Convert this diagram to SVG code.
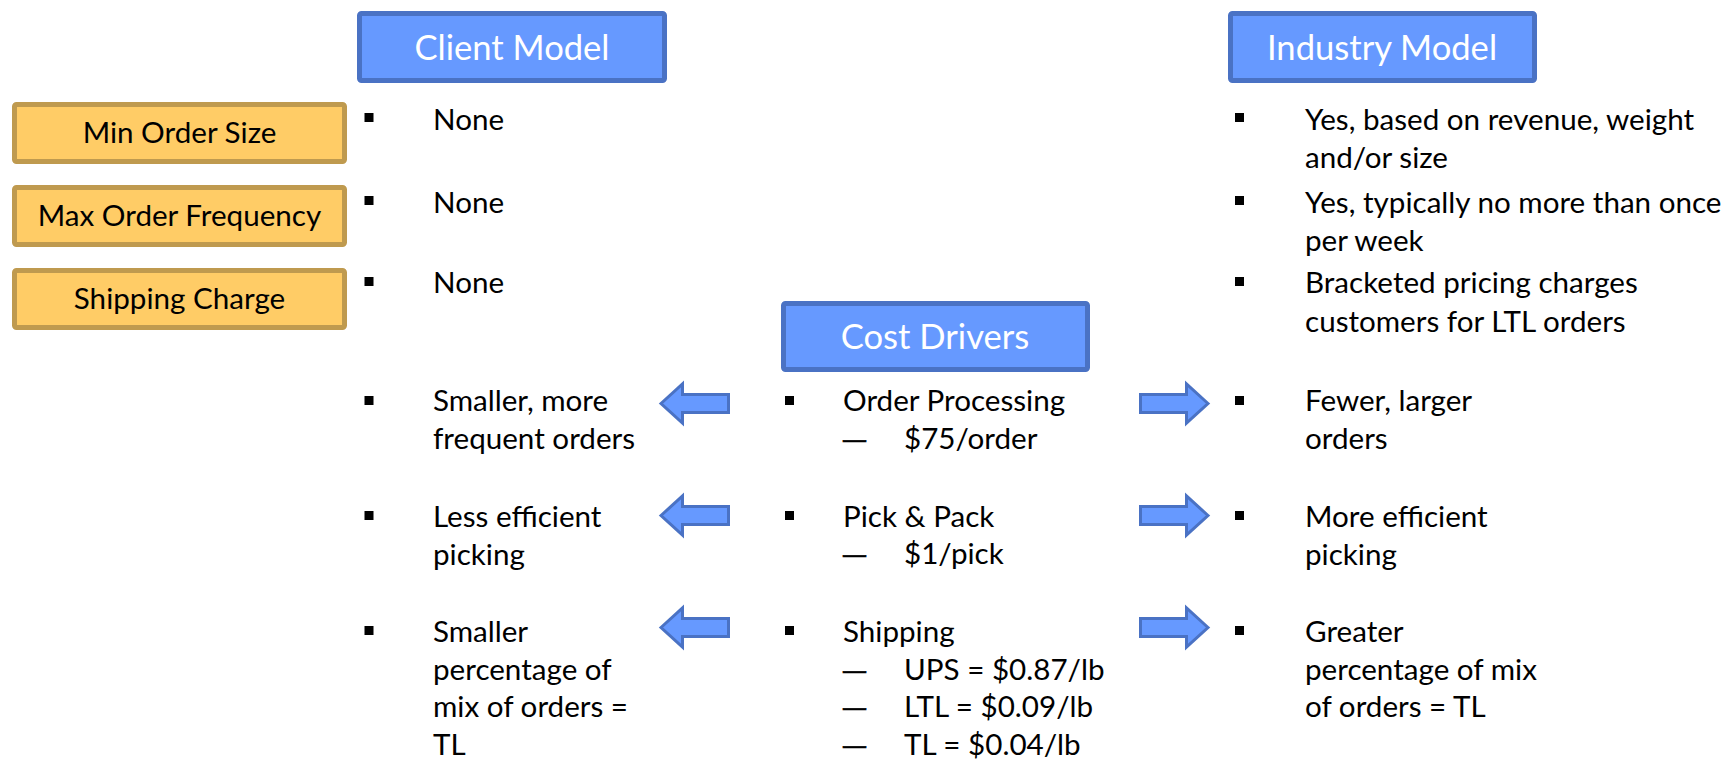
<svg xmlns="http://www.w3.org/2000/svg" width="1727" height="759" viewBox="0 0 1727 759">
  <style>
    text { font-family: Lato, "Open Sans", "Liberation Sans", sans-serif; }
    .hdr rect { fill: #6699ff; stroke: #4a72c4; stroke-width: 5; }
    .hdr text { fill: #ffffff; font-size: 34.6px; text-anchor: middle; }
    .tag rect { fill: #ffcc66; stroke: #bf9a4f; stroke-width: 5; }
    .tag text { fill: #000000; font-size: 29.6px; text-anchor: middle; }
    .body text { fill: #000000; font-size: 29.6px; }
    .body text.dash { font-family: "Liberation Sans", sans-serif; font-size: 23px; stroke: #000000; stroke-width: 0.7; }
    .bullet { fill: #000000; }
    .arrow { fill: #6699ff; stroke: #4a72c4; stroke-width: 3; stroke-linejoin: miter; }
  </style>

  <!-- column headers -->
  <g id="client-model" class="hdr">
    <rect x="359.5" y="13.5" width="305" height="67" rx="2"/>
    <text x="512" y="60">Client Model</text>
  </g>
  <g id="industry-model" class="hdr">
    <rect x="1230.5" y="13.5" width="304" height="67" rx="2"/>
    <text x="1382" y="60">Industry Model</text>
  </g>
  <g id="cost-drivers" class="hdr">
    <rect x="783.5" y="303.5" width="304" height="66" rx="2"/>
    <text x="935" y="349">Cost Drivers</text>
  </g>

  <!-- row labels -->
  <g id="min-order-size" class="tag">
    <rect x="14.5" y="104.5" width="330" height="57" rx="2"/>
    <text x="179.5" y="143">Min Order Size</text>
  </g>
  <g id="max-order-frequency" class="tag">
    <rect x="14.5" y="187.5" width="330" height="57" rx="2"/>
    <text x="179.5" y="226">Max Order Frequency</text>
  </g>
  <g id="shipping-charge" class="tag">
    <rect x="14.5" y="270.5" width="330" height="57" rx="2"/>
    <text x="179.5" y="309">Shipping Charge</text>
  </g>

  <!-- client model column -->
  <g id="client-points" class="body">
    <rect class="bullet" x="364.5" y="113" width="9" height="9"/>
    <text x="433" y="130">None</text>
    <rect class="bullet" x="364.5" y="196" width="9" height="9"/>
    <text x="433" y="213">None</text>
    <rect class="bullet" x="364.5" y="277" width="9" height="9"/>
    <text x="433" y="293">None</text>

    <rect class="bullet" x="364.5" y="396" width="9" height="9"/>
    <text x="433" y="411">Smaller, more</text>
    <text x="433" y="449">frequent orders</text>

    <rect class="bullet" x="364.5" y="511" width="9" height="9"/>
    <text x="433" y="527">Less efficient</text>
    <text x="433" y="565">picking</text>

    <rect class="bullet" x="364.5" y="626" width="9" height="9"/>
    <text x="433" y="642">Smaller</text>
    <text x="433" y="680">percentage of</text>
    <text x="433" y="717">mix of orders =</text>
    <text x="433" y="755">TL</text>
  </g>

  <!-- cost driver column -->
  <g id="cost-points" class="body">
    <rect class="bullet" x="785" y="396" width="9" height="9"/>
    <text x="843" y="411">Order Processing</text>
    <text class="dash" x="843" y="447">—</text>
    <text x="904" y="449">$75/order</text>

    <rect class="bullet" x="785" y="511" width="9" height="9"/>
    <text x="843" y="527">Pick &amp; Pack</text>
    <text class="dash" x="843" y="562">—</text>
    <text x="904" y="564">$1/pick</text>

    <rect class="bullet" x="785" y="626" width="9" height="9"/>
    <text x="843" y="642">Shipping</text>
    <text class="dash" x="843" y="678">—</text>
    <text x="904" y="680">UPS = $0.87/lb</text>
    <text class="dash" x="843" y="715">—</text>
    <text x="904" y="717">LTL = $0.09/lb</text>
    <text class="dash" x="843" y="753">—</text>
    <text x="904" y="755">TL = $0.04/lb</text>
  </g>

  <!-- industry model column -->
  <g id="industry-points" class="body">
    <rect class="bullet" x="1235" y="113" width="9" height="9"/>
    <text x="1305" y="130">Yes, based on revenue, weight</text>
    <text x="1305" y="168">and/or size</text>
    <rect class="bullet" x="1235" y="196" width="9" height="9"/>
    <text x="1305" y="213">Yes, typically no more than once</text>
    <text x="1305" y="251">per week</text>
    <rect class="bullet" x="1235" y="277" width="9" height="9"/>
    <text x="1305" y="293">Bracketed pricing charges</text>
    <text x="1305" y="332">customers for LTL orders</text>

    <rect class="bullet" x="1235" y="396" width="9" height="9"/>
    <text x="1305" y="411">Fewer, larger</text>
    <text x="1305" y="449">orders</text>

    <rect class="bullet" x="1235" y="511" width="9" height="9"/>
    <text x="1305" y="527">More efficient</text>
    <text x="1305" y="565">picking</text>

    <rect class="bullet" x="1235" y="626" width="9" height="9"/>
    <text x="1305" y="642">Greater</text>
    <text x="1305" y="680">percentage of mix</text>
    <text x="1305" y="717">of orders = TL</text>
  </g>

  <!-- block arrows from cost drivers to each model -->
  <g id="connectors">
    <path class="arrow" d="M661,403.5 L682.5,384 L682.5,394.5 L728.5,394.5 L728.5,412.5 L682.5,412.5 L682.5,423 Z"/>
    <path class="arrow" d="M661,515.5 L682.5,496 L682.5,506.5 L728.5,506.5 L728.5,524.5 L682.5,524.5 L682.5,535 Z"/>
    <path class="arrow" d="M661,627.5 L682.5,608 L682.5,618.5 L728.5,618.5 L728.5,636.5 L682.5,636.5 L682.5,647 Z"/>
    <path class="arrow" d="M1208,403.5 L1186.5,384 L1186.5,394.5 L1140.5,394.5 L1140.5,412.5 L1186.5,412.5 L1186.5,423 Z"/>
    <path class="arrow" d="M1208,515.5 L1186.5,496 L1186.5,506.5 L1140.5,506.5 L1140.5,524.5 L1186.5,524.5 L1186.5,535 Z"/>
    <path class="arrow" d="M1208,627.5 L1186.5,608 L1186.5,618.5 L1140.5,618.5 L1140.5,636.5 L1186.5,636.5 L1186.5,647 Z"/>
  </g>
</svg>
